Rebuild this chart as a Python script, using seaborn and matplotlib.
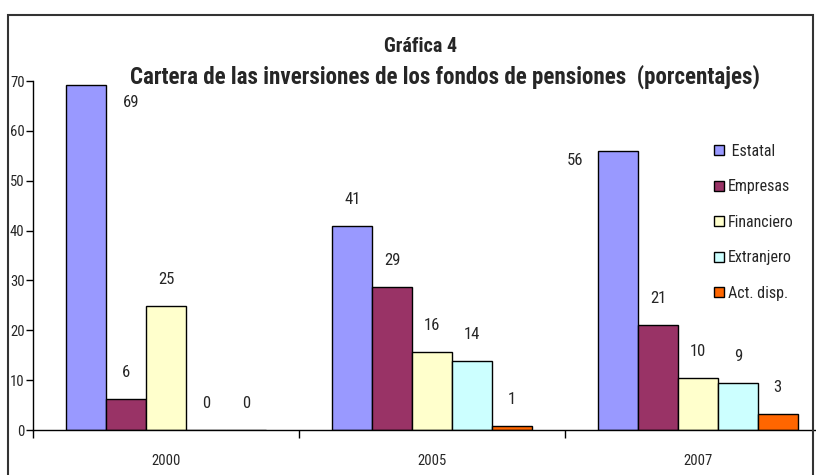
import matplotlib
matplotlib.use("Agg")
import matplotlib.pyplot as plt
from matplotlib.patches import Patch, Rectangle
import seaborn as sns
import pandas as pd

years = ["2000", "2005", "2007"]
cats = [" Estatal", "Empresas", "Financiero", "Extranjero", "Act. disp."]
estatal = [69.1, 41.0, 56.0]
empresas = [6.2, 28.7, 21.0]
financiero = [24.9, 15.7, 10.4]
extranjero = [0.0, 13.8, 9.4]
act_disp = [0.0, 0.8, 3.3]
colors = ["#9999FF", "#993366", "#FFFFCC", "#CCFFFF", "#FF6600"]

rows = []
for cat, vals in zip(cats, [estatal, empresas, financiero, extranjero, act_disp]):
    for yr, v in zip(years, vals):
        rows.append({"year": yr, "cat": cat, "value": v})
df = pd.DataFrame(rows)

sns.set_style("white")
plt.rcParams["font.family"] = ["Roboto Condensed", "Liberation Sans", "DejaVu Sans"]

fig = plt.figure(figsize=(8.16, 4.75), dpi=100)
ax = fig.add_axes([33 / 816, 45 / 475, 798 / 816, 349 / 475])

sns.barplot(data=df, x="year", y="value", hue="cat", order=years, hue_order=cats,
            palette=colors, saturation=1, edgecolor="black", linewidth=1, width=0.75,
            legend=False, ax=ax)

ax.set_xlim(-0.5, 2.5)
ax.set_ylim(0, 70)
ax.set_yticks(range(0, 71, 10))
ax.set_xlabel("")
ax.set_ylabel("")
for s in ["top", "right"]:
    ax.spines[s].set_visible(False)
for s in ["left", "bottom"]:
    ax.spines[s].set_color("black")
    ax.spines[s].set_linewidth(1)

ax.tick_params(axis="y", which="major", left=True, length=5, width=1, color="black",
               labelsize=10.5, pad=1)
ax.tick_params(axis="x", which="major", bottom=False, labelsize=10.5, pad=14)
ax.set_xticks([-0.5, 0.5, 1.5], minor=True)
ax.tick_params(axis="x", which="minor", bottom=True, length=6, width=1, color="black")

# label offsets in points (Excel had two labels moved by hand)
special = {(0, 0): (32, -12), (0, 2): (-31, -7)}
for i, cont in enumerate(ax.containers):
    for j, bar in enumerate(cont):
        v = bar.get_height()
        dx, dy = special.get((i, j), (0, 19))
        ax.annotate(f"{v:.0f}", (bar.get_x() + bar.get_width() / 2, v),
                    xytext=(dx, dy), textcoords="offset points",
                    ha="center", va="center", fontsize=12)

handles = [Patch(facecolor=c, edgecolor="black", linewidth=1) for c in colors]
fig.legend(handles, cats, loc="upper left", bbox_to_anchor=(714 / 816, 1 - 144 / 475),
           bbox_transform=fig.transFigure, frameon=False, fontsize=11.5,
           handlelength=0.6, handleheight=0.6, handletextpad=0.25,
           labelspacing=1.28, borderpad=0, borderaxespad=0)

fig.text(421 / 816, 1 - 47 / 475, "Gráfica 4", ha="center", va="center",
         fontsize=14.5, fontweight="bold")
fig.text(445 / 816, 1 - 77 / 475,
         "Cartera de las inversiones de los fondos de pensiones  (porcentajes)",
         ha="center", va="center", fontsize=16.6, fontweight="bold")

fig.add_artist(Rectangle((8 / 816, -0.1), 805 / 816, 460 / 475 + 0.1,
                         transform=fig.transFigure, fill=False,
                         edgecolor="#333333", linewidth=1.5))

fig.savefig("out.png", dpi=100)
